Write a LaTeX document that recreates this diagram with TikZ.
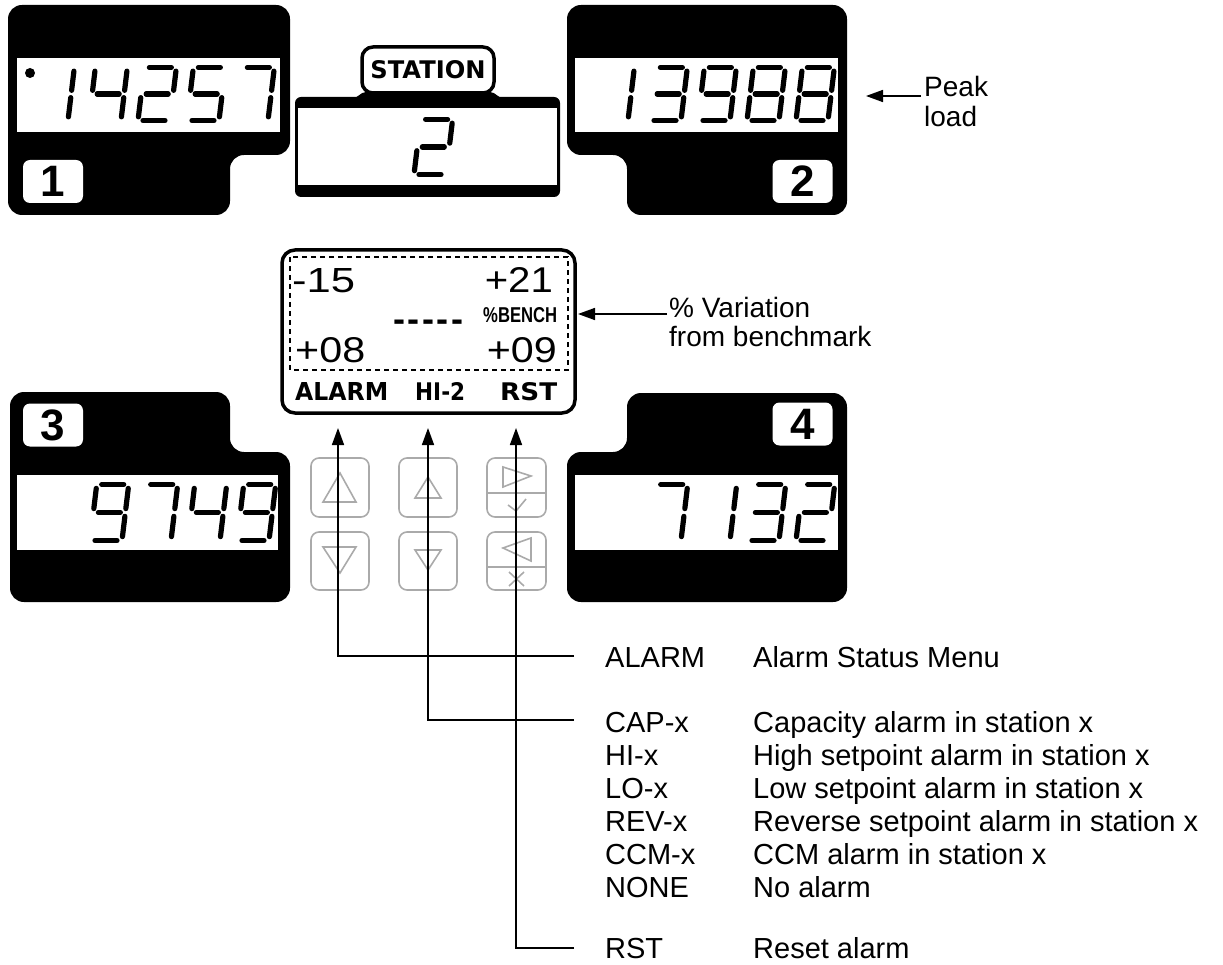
\documentclass[tikz,border=0pt]{standalone}
\usepackage{graphicx}
\usepackage{fontspec}
\setmainfont{Liberation Sans}
\newfontfamily\lcdfont{DejaVu Sans}
\usetikzlibrary{arrows.meta}
\definecolor{btngray}{RGB}{170,170,170}

% seven-segment pieces (local units, y up, W=32, H=58)
\newcommand\dsega{\draw[segline] (5,58) -- (27,58);}
\newcommand\dsegb{\draw[segline] (32,54) -- (32,33);}
\newcommand\dsegc{\draw[segline] (32,25) -- (32,4);}
\newcommand\dsegd{\draw[segline] (5,0) -- (27,0);}
\newcommand\dsege{\draw[segline] (0,25) -- (0,4);}
\newcommand\dsegf{\draw[segline] (0,54) -- (0,33);}
\newcommand\dsegg{\draw[segline] (5,29) -- (27,29);}
% #1 x, #2 baseline y, #3 vertical scale, #4 segment list
\newcommand\segdigit[4]{%
  \begin{scope}[shift={(#1,#2)},x=1pt,y=#3pt,xslant=0.12]
    \foreach \s in {#4}{\csname dseg\s\endcsname}
  \end{scope}}
\newcommand\dk{\kern2.6pt}

\begin{document}
\begin{tikzpicture}[x=1pt,y=-1pt,
  segline/.style={line width=5.2pt,line cap=round},
  arr/.style={line width=1.6pt,-{Triangle[length=17pt,width=12pt]}},
  btn/.style={draw=btngray,line width=1.6pt,rounded corners=8pt},
  btnsym/.style={draw=btngray,line width=1.6pt,line join=miter},
  panel/.style={fill=black,rounded corners=14pt},
  lcdwin/.style={fill=white},
  badge/.style={fill=white,rounded corners=7pt,minimum width=60pt,minimum height=43pt,inner sep=0pt,font=\fontsize{44}{44}\selectfont\bfseries},
  lg/.style={anchor=base west,inner sep=0pt,font=\fontsize{29}{33}\selectfont},
  note/.style={anchor=base west,inner sep=0pt,font=\fontsize{28}{30}\selectfont},
  mt/.style={inner sep=0pt}]
\useasboundingbox (0,0) rectangle (1223,965);

% ---------- panel 1 ----------
\fill[panel] (8,5) -- (290,5) -- (290,155) -- (230,155) -- (230,215) -- (8,215) -- cycle;
\fill[lcdwin] (17,58) rectangle (280,132);
\fill (30,73) circle (5pt);
\segdigit{36}{120.5}{0.914}{b,c}
\segdigit{89}{120.5}{0.914}{f,g,b,c}
\segdigit{138}{120.5}{0.914}{a,b,g,e,d}
\segdigit{187}{120.5}{0.914}{a,f,g,c,d}
\segdigit{236}{120.5}{0.914}{a,b,c}
\node[badge] (b1) at (53,181.5) {1};

% ---------- panel 2 ----------
\fill[panel] (567,5) -- (847,5) -- (847,215) -- (627,215) -- (627,155) -- (567,155) -- cycle;
\fill[lcdwin] (575,58) rectangle (838,132);
\segdigit{596}{120.5}{0.914}{b,c}
\segdigit{649}{120.5}{0.914}{a,b,g,c,d}
\segdigit{698}{120.5}{0.914}{a,b,c,d,f,g}
\segdigit{747}{120.5}{0.914}{a,b,c,d,e,f,g}
\segdigit{796}{120.5}{0.914}{a,b,c,d,e,f,g}
\node[badge] (b2) at (802.5,181.5) {2};

% ---------- panel 3 ----------
\fill[panel] (10,392) -- (230,392) -- (230,452) -- (290,452) -- (290,602) -- (10,602) -- cycle;
\fill[lcdwin] (17,475) rectangle (278,550);
\segdigit{90}{540.5}{0.966}{a,b,c,d,f,g}
\segdigit{139}{540.5}{0.966}{a,b,c}
\segdigit{188}{540.5}{0.966}{f,g,b,c}
\segdigit{237}{540.5}{0.966}{a,b,c,d,f,g}
\node[badge] (b3) at (53,425) {3};

% ---------- panel 4 ----------
\fill[panel] (627,393) -- (847,393) -- (847,602) -- (567,602) -- (567,452) -- (627,452) -- cycle;
\fill[lcdwin] (575,475) rectangle (838,550);
\segdigit{649}{540.5}{0.966}{a,b,c}
\segdigit{698}{540.5}{0.966}{b,c}
\segdigit{747}{540.5}{0.966}{a,b,g,c,d}
\segdigit{796}{540.5}{0.966}{a,b,g,e,d}
\node[badge] (b4) at (802.5,424) {4};

% ---------- station display ----------
\fill[black,rounded corners=6pt] (295,97) rectangle (560,197);
\fill[black] (350,99) .. controls (358,99) and (360,92) .. (366,92) -- (490,92) .. controls (496,92) and (498,99) .. (506,99) -- cycle;
\fill[lcdwin] (298,108) rectangle (557,185);
\segdigit{414}{174.5}{0.95}{a,b,g,e,d}
\node[draw,line width=3.5pt,fill=white,rounded corners=11pt,minimum width=132pt,minimum height=46pt,inner sep=0pt] (stlabel) at (428,70)
  {\resizebox{115pt}{18pt}{\lcdfont\bfseries STATION}};

% ---------- menu display ----------
\draw[line width=3.5pt,rounded corners=13pt] (282,250) rectangle (575,413);
\draw[line width=1.3pt,dash pattern=on 5pt off 4pt] (290,257) rectangle (568,370);
\node[mt,anchor=base west] (m15) at (292,293) {\resizebox{63pt}{24pt}{-15}};
\node[mt,anchor=base east] (m21) at (553,293) {\resizebox{68pt}{25pt}{+21}};
\node[mt,anchor=base west] (mbench) at (483,323) {\resizebox{74pt}{15pt}{\bfseries\%BENCH}};
\node[mt,anchor=base west,font=\fontsize{36}{36}\selectfont\bfseries] (mdash) at (393,332) {-\dk-\dk-\dk-\dk-};
\node[mt,anchor=base west] (m08) at (295,362) {\resizebox{70pt}{25pt}{+08}};
\node[mt,anchor=base east] (m09) at (557,362) {\resizebox{70pt}{25pt}{+09}};
\node[mt,anchor=base west] (malarm) at (295,400) {\resizebox{93pt}{18pt}{\lcdfont\bfseries ALARM}};
\node[mt,anchor=base west] (mhi) at (415,400) {\resizebox{50pt}{18pt}{\lcdfont\bfseries HI-2}};
\node[mt,anchor=base west] (mrst) at (500,400) {\resizebox{57pt}{18pt}{\lcdfont\bfseries RST}};

% ---------- buttons ----------
\draw[btn] (311,458) rectangle (369,517);
\draw[btn] (311,532) rectangle (369,590);
\draw[btn] (399,458) rectangle (457,517);
\draw[btn] (399,532) rectangle (457,590);
\draw[btn] (487,458) rectangle (546,517);
\draw[btn] (487,532) rectangle (546,590);
\draw[btnsym] (340,473) -- (356,502) -- (323,502) -- cycle;
\draw[btnsym] (323,547) -- (356,547) -- (340,573) -- cycle;
\draw[btnsym] (428,477) -- (441,498) -- (415,498) -- cycle;
\draw[btnsym] (415,550) -- (441,550) -- (428,570) -- cycle;
\draw[btnsym] (487,493) -- (546,493);
\draw[btnsym] (503,467) -- (531,476) -- (503,487) -- cycle;
\draw[btnsym] (508,505) -- (516,511) -- (526,499);
\draw[btnsym] (487,567) -- (546,567);
\draw[btnsym] (531,538) -- (503,548) -- (531,561) -- cycle;
\draw[btnsym] (509,572) -- (524,586) (524,572) -- (509,586);

% ---------- annotations ----------
\node[note] (peak) at (924,97) {Peak};
\node[note] (load) at (924,127) {load};
\coordinate (peakend) at (921,96);
\coordinate (peaktip) at (866,96);
\draw[arr] (peakend) -- (peaktip);

\node[note] (var1) at (669,318) {\% Variation};
\node[note] (var2) at (669,347) {from benchmark};
\coordinate (varend) at (667,314);
\coordinate (vartip) at (578,314);
\draw[arr] (varend) -- (vartip);

% ---------- legend ----------
\node[lg] (lAlarm) at (605,667) {ALARM};
\node[lg] (dAlarm) at (753,667) {Alarm Status Menu};
\node[lg] (lCap) at (605,732) {CAP-x};
\node[lg] (dCap) at (753,732) {Capacity alarm in station x};
\node[lg] (lHi) at (605,765) {HI-x};
\node[lg] (dHi) at (753,765) {High setpoint alarm in station x};
\node[lg] (lLo) at (605,798) {LO-x};
\node[lg] (dLo) at (753,798) {Low setpoint alarm in station x};
\node[lg] (lRev) at (605,831) {REV-x};
\node[lg] (dRev) at (753,831) {Reverse setpoint alarm in station x};
\node[lg] (lCcm) at (605,864) {CCM-x};
\node[lg] (dCcm) at (753,864) {CCM alarm in station x};
\node[lg] (lNone) at (605,897) {NONE};
\node[lg] (dNone) at (753,897) {No alarm};
\node[lg] (lRst) at (605,958) {RST};
\node[lg] (dRst) at (753,958) {Reset alarm};

\coordinate (tipA) at (338,428);
\coordinate (tipH) at (428,428);
\coordinate (tipR) at (516,428);
\coordinate (endA) at (574,656);
\coordinate (endH) at (574,720);
\coordinate (endR) at (574,948);
\draw[arr] (endA) -| (tipA);
\draw[arr] (endH) -| (tipH);
\draw[arr] (endR) -| (tipR);
\end{tikzpicture}
\end{document}
